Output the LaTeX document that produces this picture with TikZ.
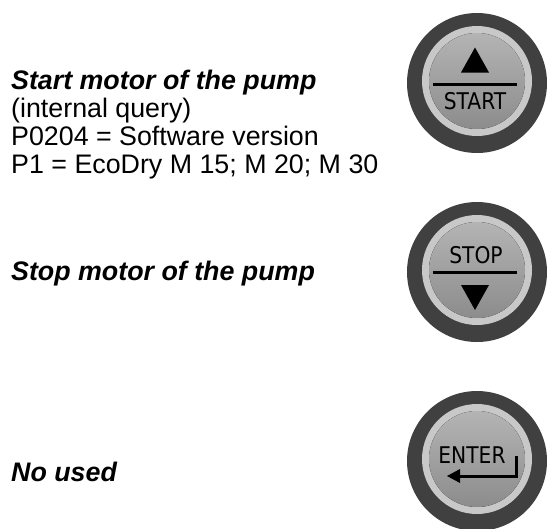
\documentclass[tikz,border=0pt]{standalone}
\usepackage{fontspec}
\setmainfont{Liberation Sans}
\newfontfamily\keyfont[FakeStretch=0.88]{DejaVu Sans}

\definecolor{rimdark}{HTML}{404040}
\definecolor{rimlight}{HTML}{C8C8C8}
\definecolor{facetop}{HTML}{B4B4B4}
\definecolor{facebot}{HTML}{8C8C8C}

\tikzset{
  rim/.style={fill=rimdark},
  ring/.style={fill=rimlight},
  face/.style={top color=facetop, bottom color=facebot},
  desc/.style={anchor=base west, inner sep=0pt, font=\fontsize{26.8}{28}\selectfont},
  headline/.style={desc, font=\fontsize{26.8}{28}\selectfont\bfseries\itshape},
  keytext/.style={inner sep=0pt, font=\keyfont\fontsize{23}{23}\selectfont}
}

\begin{document}
\begin{tikzpicture}[x=1pt,y=-1pt]
        \useasboundingbox (0,0) rectangle (549,528);
        % start key
        \fill[rim] (477,83) circle (70pt);
        \fill[ring] (477,81) circle (55pt);
        \fill[face] (477,81) circle (48pt);
        \fill (475,47.5) -- (489,72.5) -- (461,72.5) -- cycle;
        \fill (433,83) rectangle (517,86);
        \node[keytext] (startkey) at (475,101) {START};
        % stop key
        \fill[rim] (477,272) circle (70pt);
        \fill[ring] (477,270) circle (55pt);
        \fill[face] (477,270) circle (48pt);
        \node[keytext] (stopkey) at (476,255.5) {STOP};
        \fill (433,270.5) rectangle (517,273.5);
        \fill (461,285) -- (489,285) -- (475,310) -- cycle;
        % enter key
        \fill[rim] (477,461) circle (70pt);
        \fill[ring] (477,459) circle (55pt);
        \fill[face] (477,459) circle (48pt);
        \node[keytext] (enterkey) at (472,455.5) {ENTER};
        \draw[line width=3pt] (516,456) -- (516,476) -- (458,476);
        \fill (447,476) -- (460,469) -- (460,483) -- cycle;
        % texts
        \node[headline] (start) at (11,89) {Start motor of the pump};
        \node[desc] (query) at (11,117) {(internal query)};
        \node[desc] (version) at (11,145) {P0204 = Software version};
        \node[desc] (models) at (11,173) {P1 = EcoDry M 15; M 20; M 30};
        \node[headline] (stop) at (11,280) {Stop motor of the pump};
        \node[headline] (noused) at (11,481) {No used};
    \end{tikzpicture}
\end{document}
